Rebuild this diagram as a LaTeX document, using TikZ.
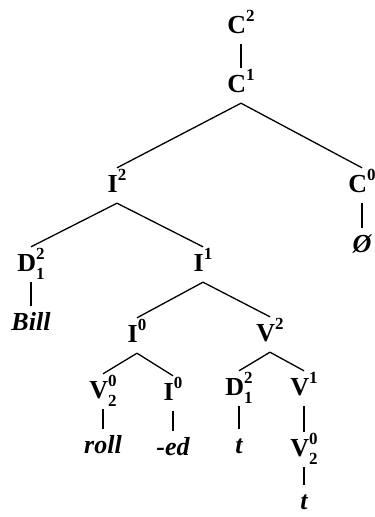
\documentclass[tikz,border=0pt]{standalone}
\usepackage{fontspec}
\setmainfont{Liberation Serif}
\usepackage{tikz}
\newcommand{\scr}{\fontsize{17}{17}\selectfont}
\newcommand{\lvl}[2]{#1\raisebox{0.45em}{\scr#2}}
\newcommand{\lvlsub}[3]{#1\rlap{\raisebox{0.45em}{\scr#2}}\raisebox{-0.32em}{\scr#3}}

\begin{document}
\begin{tikzpicture}[
  x=1pt, y=-1pt,
  font=\fontsize{26}{30}\selectfont\bfseries,
  cat/.style={anchor=base, text height=21pt, text depth=8pt,
    inner xsep=1pt, inner ysep=3pt},
  word/.style={cat, font=\fontsize{26}{30}\selectfont\bfseries\itshape},
  edge/.style={line width=1.3pt, black}
]
  \useasboundingbox (0,0) rectangle (375,517);

  \node[cat] (c2) at (241,33) {\lvl{C}{2}};
  \node[cat] (c1) at (241,92) {\lvl{C}{1}};
  \node[cat] (i2) at (117,192) {\lvl{I}{2}};
  \node[cat] (c0) at (362,192) {\lvl{C}{0}};
  \node[word] (null) at (362,252) {Ø};
  \node[cat] (d2a) at (31,271) {\lvlsub{D}{2}{1}};
  \node[cat] (i1) at (203,271) {\lvl{I}{1}};
  \node[word] (bill) at (31,330) {Bill};
  \node[cat] (i0a) at (137,342) {\lvl{I}{0}};
  \node[cat] (v2) at (270,341) {\lvl{V}{2}};
  \node[cat] (v0a) at (103,398) {\lvlsub{V}{0}{2}};
  \node[cat] (i0b) at (173,400) {\lvl{I}{0}};
  \node[cat] (d2b) at (239,395) {\lvlsub{D}{2}{1}};
  \node[cat] (v1) at (304,395) {\lvl{V}{1}};
  \node[word] (roll) at (103,453) {roll};
  \node[word] (ed) at (173,455) {-ed};
  \node[word] (t1) at (239,453) {t};
  \node[cat] (v0b) at (304,456) {\lvlsub{V}{0}{2}};
  \node[word] (t2) at (304,509) {t};

  \foreach \a/\b in {c2/c1, c1/i2, c1/c0, c0/null, i2/d2a, i2/i1,
      d2a/bill, i1/i0a, i1/v2, i0a/v0a, i0a/i0b, v2/d2b, v2/v1,
      v0a/roll, i0b/ed, d2b/t1, v1/v0b, v0b/t2}
    \draw[edge] (\a.south) -- (\b.north);
\end{tikzpicture}
\end{document}
